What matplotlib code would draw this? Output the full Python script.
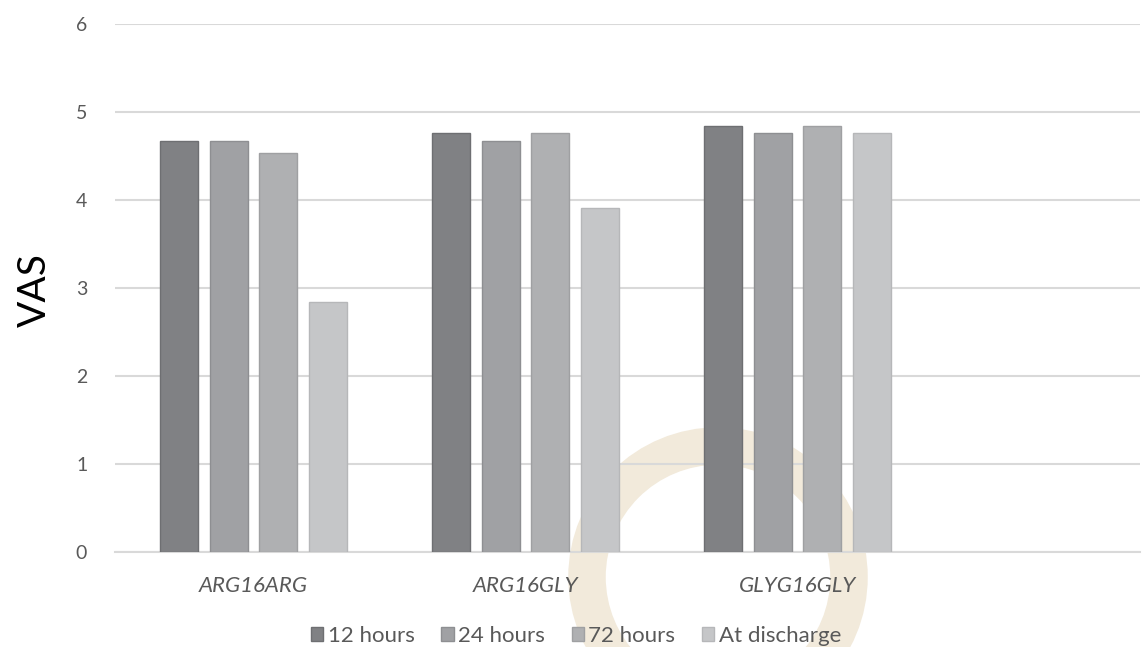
import matplotlib
matplotlib.use("Agg")
import matplotlib.pyplot as plt
import numpy as np
from matplotlib.patches import Circle
from matplotlib.transforms import IdentityTransform

plt.rcParams['font.family'] = ['Lato', 'DejaVu Sans']

categories = ["ARG16ARG", "ARG16GLY", "GLYG16GLY"]
series = ["12 hours", "24 hours", "72 hours", "At discharge"]
values = {
    "12 hours": [4.67, 4.76, 4.84],
    "24 hours": [4.67, 4.67, 4.76],
    "72 hours": [4.53, 4.76, 4.84],
    "At discharge": [2.84, 3.91, 4.76],
}
colors = ["#808184", "#a0a1a4", "#afb0b2", "#c5c6c8"]
edges = ["#6e6f72", "#8e8f92", "#9fa0a2", "#b6b7b9"]
yticks = [0, 1, 2, 3, 4, 5, 6]

W, H = 1143, 647
fig = plt.figure(figsize=(W / 100, H / 100), dpi=100)
ax = fig.add_axes([115 / W, 1 - 552 / H, (1140 - 115) / W, (552 - 24) / H])
ax.patch.set_alpha(0)

# faint watermark ring (display coordinates)
ring = Circle((718, H - 577), radius=131, transform=IdentityTransform(),
              fill=False, edgecolor="#f2eadb", linewidth=27, zorder=0.5, clip_on=False)
ax.add_artist(ring)

x = np.arange(len(categories))
step = 0.182
width = 0.14
for i, s in enumerate(series):
    ax.bar(x + (i - 1.5) * step, values[s], width=width, color=colors[i],
           edgecolor=edges[i], linewidth=1, label=s, zorder=3)

ax.set_xlim(-0.509, 3.26)
ax.set_ylim(0, 6)
ax.set_yticks(yticks)
ax.set_yticklabels([str(t) for t in yticks], fontsize=14, color="#595959")
ax.grid(axis="y", color="#d9d9d9", linewidth=1.5, zorder=1)
ax.set_axisbelow(True)
ax.tick_params(axis="both", length=0)
ax.tick_params(axis="y", pad=20)
ax.set_xticks(x)
ax.set_xticklabels(categories, fontsize=16, color="#595959", style="italic")
ax.tick_params(axis="x", pad=17)
for sp in ["top", "right", "left"]:
    ax.spines[sp].set_visible(False)
ax.spines["bottom"].set_color("#d9d9d9")
ax.spines["bottom"].set_linewidth(1.5)

fig.text(35 / W, 1 - 290 / H, "VAS", rotation=90, fontsize=28, ha="center", va="center", color="#000000")

leg = ax.legend(loc="center", bbox_to_anchor=(576 / W, 1 - 636 / H), bbox_transform=fig.transFigure,
                ncol=4, frameon=False, fontsize=16, handlelength=0.55, handleheight=0.55,
                handletextpad=0.2, columnspacing=1.2, labelcolor="#595959", borderpad=0)

fig.savefig("out.png", dpi=100)
